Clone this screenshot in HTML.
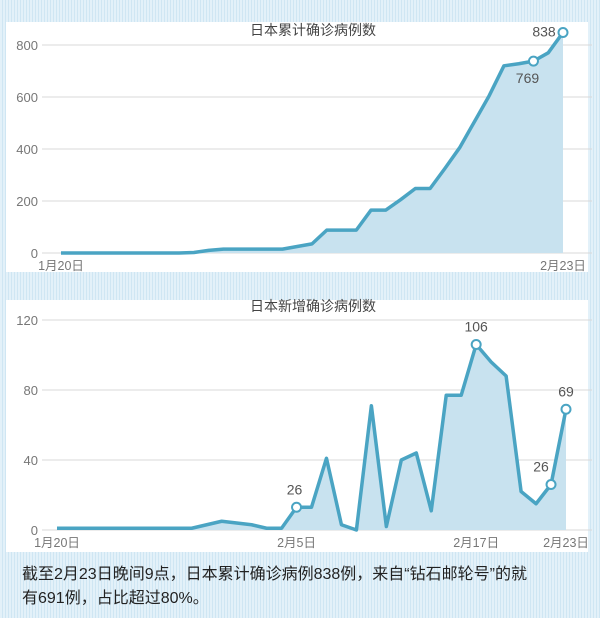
<!DOCTYPE html>
<html><head><meta charset="utf-8">
<style>
html,body{margin:0;padding:0}
body{width:600px;height:618px;position:relative;overflow:hidden;font-family:"Liberation Sans","Noto Sans CJK SC",sans-serif;
background:repeating-linear-gradient(90deg,#e3f1f9 0 2px,#cfe6f3 2px 3px);}
.panel{position:absolute;background:#fff;left:6px;width:582px}
svg{position:absolute;left:0;top:0}
.cap{position:absolute;left:22px;top:563px;font-size:16px;line-height:24px;color:#222;width:580px;white-space:nowrap}
</style></head><body>
<div class="panel" style="top:22px;height:250px"></div>
<div class="panel" style="top:300px;height:252px"></div>
<svg id="c" width="600" height="618"></svg>
<div class="cap">截至2月23日晚间9点，日本累计确诊病例838例，来自“钻石邮轮号”的就<br>有691例，占比超过80%。</div>
<script>
const cumValues=[0,0,0,0,0,0,0,0,0,2,10,15,15,15,15,15,25,35,88,88,88,165,165,205,248,248,325,405,505,605,720,728,738,770,848];
const cumTicks=[0,200,400,600,800];
const dailyValues=[1,1,1,1,1,1,1,1,1,1,3,5,4,3,1,1,13,13,41,3,0,71,2,40,44,11,77,77,106,96,88,22,15,26,69];
const dailyTicks=[0,40,80,120];
const dateLabels=["1月20日","2月5日","2月17日","2月23日"];
const dateIdx=[0,16,28,34];
const ns="http://www.w3.org/2000/svg";
const svg=document.getElementById('c');
function el(t,a,txt){const e=document.createElementNS(ns,t);for(const k in a)e.setAttribute(k,a[k]);if(txt!==undefined)e.textContent=txt;svg.appendChild(e);return e;}
function chart(cfg){
  const xs=i=>cfg.x0+i*(cfg.x1-cfg.x0)/(cfg.vals.length-1);
  const ys=v=>cfg.y0-v*(cfg.y0-cfg.yTop)/cfg.vmax;
  cfg.ticks.forEach(t=>{
    const g=el('line',{x1:cfg.gx,x2:592,y1:ys(t),y2:ys(t),stroke:'#d8d8d8','stroke-width':1});
    
    
    const l=el('text',{x:cfg.lx,y:ys(t)+5,'text-anchor':'end','font-size':13,fill:'#777'},t);
    
    
  });
  let d='M'+xs(0)+','+ys(cfg.vals[0]);
  cfg.vals.forEach((v,i)=>{d+=' L'+xs(i)+','+ys(v);});
  const a=el('path',{d:d+' L'+xs(cfg.vals.length-1)+','+cfg.y0+' L'+xs(0)+','+cfg.y0+'Z',fill:'#c8e2ef'});
  
  
  const p=el('path',{d:d,fill:'none',stroke:'#4aa4c3','stroke-width':3.5,'stroke-linejoin':'round'});
  
  
  cfg.labIdx.forEach((i,k)=>{
    const t=el('text',{x:xs(i),y:cfg.y0+17,'text-anchor':'middle','font-size':12.5,fill:'#777'},cfg.labs[k]);
    
    
  });
  cfg.marks.forEach(m=>{
    const c=el('circle',{cx:xs(m[0]),cy:ys(cfg.vals[m[0]]),r:4.5,fill:'#fff',stroke:'#4aa4c3','stroke-width':2});
    
    
    const t=el('text',{x:xs(m[0])+m[2],y:ys(cfg.vals[m[0]])+m[3],'text-anchor':'middle','font-size':14,fill:'#555'},m[1]);
    
    
  });
  const ti=el('text',{x:313,y:cfg.ty,'text-anchor':'middle','font-size':14,fill:'#444'},cfg.title);
  
  
}
chart({name:'cumulative',vals:cumValues,ticks:cumTicks,vmax:800,x0:61,x1:563,y0:253,yTop:45,gx:42,lx:38,
 labIdx:[0,34],labs:["1月20日","2月23日"],marks:[[32,'769',-6,22],[34,'838',-19,4]],title:'日本累计确诊病例数',ty:35});
chart({name:'daily',vals:dailyValues,ticks:dailyTicks,vmax:120,x0:57,x1:566,y0:530,yTop:320,gx:42,lx:38,
 labIdx:dateIdx,labs:dateLabels,marks:[[16,'26',-2,-13],[28,'106',0,-13],[33,'26',-10,-13],[34,'69',0,-13]],title:'日本新增确诊病例数',ty:311});
</script>
</body></html>
